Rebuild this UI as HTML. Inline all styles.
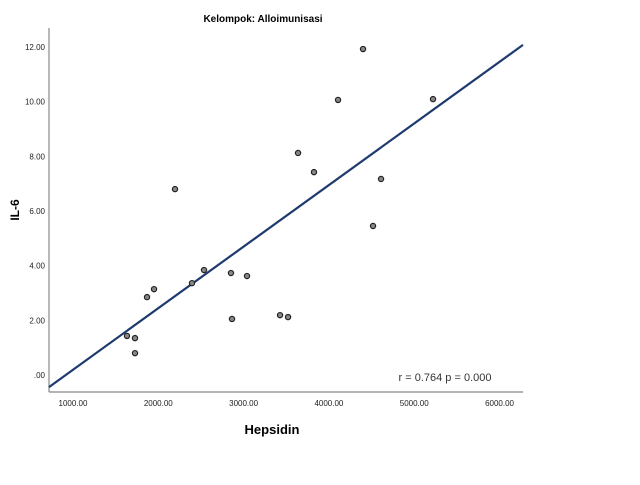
<!DOCTYPE html>
<html><head><meta charset="utf-8">
<style>
body{margin:0;background:#fff;width:640px;height:480px;overflow:hidden;font-family:"Liberation Sans",sans-serif;}
svg text{font-family:"Liberation Sans",sans-serif;}
</style></head>
<body>
<svg id="chart" width="640" height="480">
<text x="263" y="22" font-size="10" font-weight="bold" text-anchor="middle">Kelompok: Alloimunisasi</text>
<text x="272" y="434" font-size="13" font-weight="bold" text-anchor="middle">Hepsidin</text>
<text transform="translate(19,210) rotate(-90)" font-size="12" font-weight="bold" text-anchor="middle">IL-6</text>
<text x="445" y="381" font-size="11" fill="#333" text-anchor="middle">r = 0.764  p = 0.000</text>
</svg>
<script>
const xs=[1633,1727,1727,1868,1950,2196,2395,2536,2852,2864,3040,3427,3521,3638,3825,4107,4400,4517,4611,5220];
const ys=[1.43,1.35,0.80,2.85,3.14,6.80,3.36,3.84,3.73,2.05,3.62,2.19,2.12,8.12,7.42,10.06,11.92,5.45,7.17,10.09];
const xTicks=[1000,2000,3000,4000,5000,6000];
const yTicks=[0,2,4,6,8,10,12];
const xTickLabels=["1000.00","2000.00","3000.00","4000.00","5000.00","6000.00"];
const yTickLabels=[".00","2.00","4.00","6.00","8.00","10.00","12.00"];
const fitLine=[-2.06,0.002252]; // intercept, slope
const L=49,R=523,T=28,B=392,X0=719,X1=6275,Y0=-0.62,Y1=12.69;
const sx=v=>L+(v-X0)/(X1-X0)*(R-L);
const sy=v=>B-(v-Y0)/(Y1-Y0)*(B-T);
const svg=document.getElementById('chart');
const NS='http://www.w3.org/2000/svg';
function mk(t,a){const e=document.createElementNS(NS,t);for(const k in a)e.setAttribute(k,a[k]);svg.appendChild(e);return e;}
let e=mk('line',{x1:L,y1:T,x2:L,y2:B,stroke:'#888','stroke-width':1.2});


e=mk('line',{x1:L,y1:B,x2:R,y2:B,stroke:'#888','stroke-width':1.2});


xTicks.forEach((v,i)=>{
 const t=mk('text',{x:sx(v),y:406,'font-size':8,'text-anchor':'middle',fill:'#222'});
 t.textContent=xTickLabels[i];
 
 
});
yTicks.forEach((v,i)=>{
 const t=mk('text',{x:45,y:sy(v)+3,'font-size':8,'text-anchor':'end',fill:'#222'});
 t.textContent=yTickLabels[i];
 
 
});
const fy=x=>fitLine[0]+fitLine[1]*x;
e=mk('line',{x1:sx(X0),y1:sy(fy(X0)),x2:sx(X1),y2:sy(fy(X1)),stroke:'#1f3a6e','stroke-width':2.2});


xs.forEach((x,i)=>{
 const c=mk('circle',{cx:sx(x),cy:sy(ys[i]),r:2.6,fill:'#888',stroke:'#222','stroke-width':1.2});
 
 
});
</script>
</body></html>
